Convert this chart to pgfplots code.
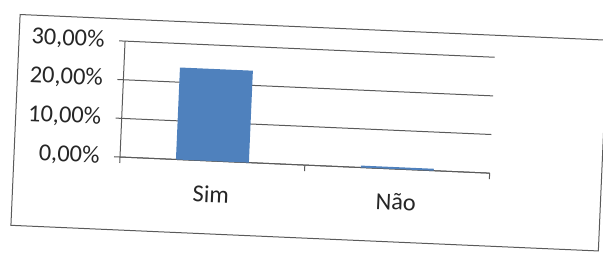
\documentclass[border=0pt]{standalone}
\usepackage{fontspec}
\setmainfont{Carlito}
\usepackage{pgfplots}
\pgfplotsset{compat=1.18}
\definecolor{barblue}{HTML}{4F81BD}
\definecolor{linegray}{HTML}{5A5A5A}
\begin{document}
\begin{tikzpicture}[x=1bp,y=1bp]
\useasboundingbox (-120,-98) rectangle (483,157);
\begin{scope}[transform canvas={rotate=-2.5}]
\draw[linegray, line width=1bp] (-106,-73) rectangle (482,138);
\begin{axis}[
  at={(0bp,0bp)}, anchor=south west,
  scale only axis, width=370bp, height=116bp,
  ymin=0, ymax=30, ytick={0,10,20,30},
  xmin=-0.5, xmax=1.5,
  xtick={0,1}, xticklabels={Sim,Não},
  minor xtick={-0.5,0.5,1.5},
  major x tick style={draw=none},
  axis x line*=bottom, axis y line*=left,
  axis line style={linegray, line width=1bp},
  tick style={linegray, line width=1bp},
  tick align=outside, major tick length=6bp, minor tick length=6bp,
  ymajorgrids, grid style={linegray, line width=1bp},
  /pgf/number format/assume math mode=true,
  yticklabel={\pgfmathprintnumber[fixed,fixed zerofill,precision=2,use comma]{\tick}\%},
  ticklabel style={font=\fontsize{24.5}{28}\selectfont, text=black!85},
  yticklabel style={xshift=-11bp},
  xticklabel style={yshift=-15bp},
  ybar, bar width=73bp,
]
\addplot[fill=barblue, draw=none] coordinates {(0,23.8) (1,0.5)};
\end{axis}
\end{scope}
\end{tikzpicture}
\end{document}
